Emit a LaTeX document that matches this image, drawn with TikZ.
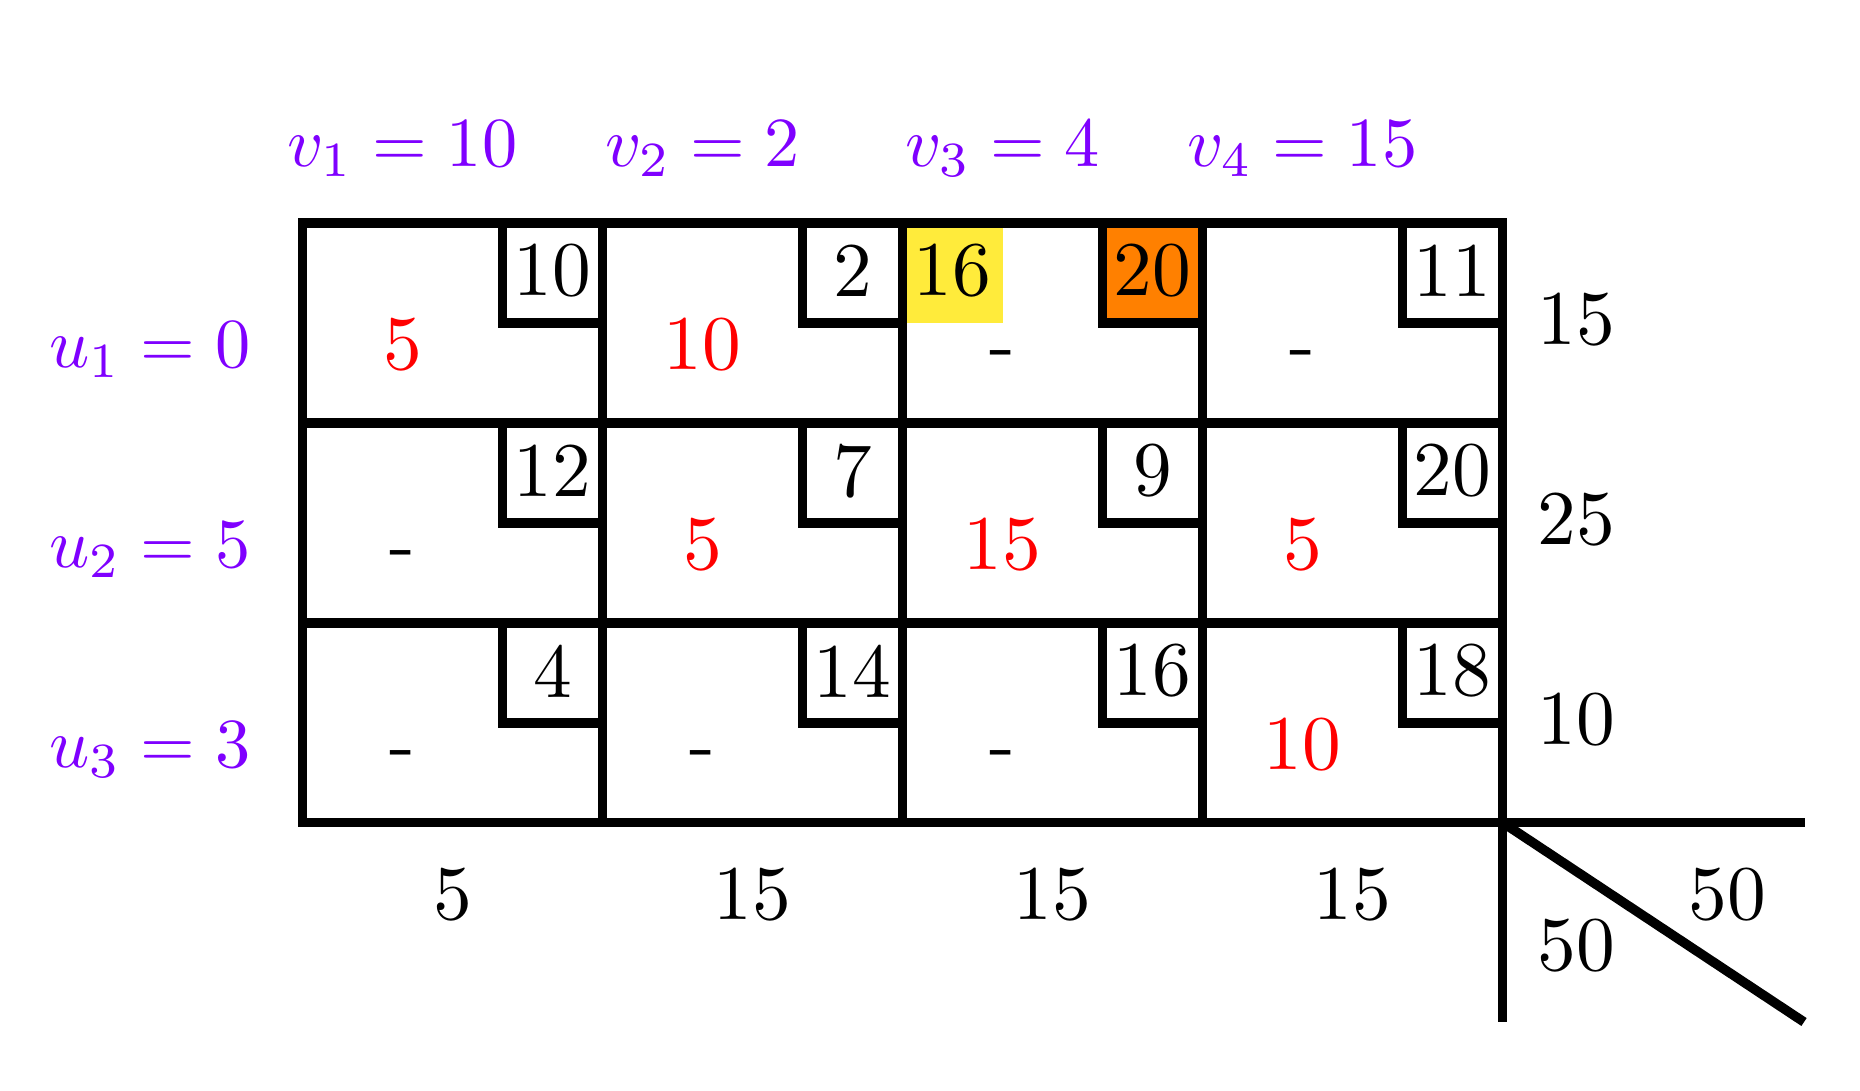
\documentclass[tikz,border=0pt]{standalone}
\usepackage{graphicx}
\definecolor{purp}{RGB}{127,0,255}
\definecolor{yel}{RGB}{255,235,59}
\definecolor{org}{RGB}{255,128,0}
\newcommand{\numtxt}[1]{\scalebox{2.2}{#1}}
\newcommand{\labtxt}[1]{\scalebox{2.0}{$#1$}}
\begin{document}
\begin{tikzpicture}[x=0.01cm,y=-0.01cm,line width=0.095cm,line join=miter,
  num/.style={inner sep=0pt},
  alloc/.style={num,anchor=base},
  red alloc/.style={alloc,text=red},
  lab/.style={text=purp,inner sep=0pt,anchor=base}]
\useasboundingbox (0,0) rectangle (1860,1090);
% highlight fills
\fill[yel] (902.5,223) rectangle (1002.5,323);
\fill[org] (1102.5,223) rectangle (1202.5,323);
% small cost boxes
\foreach \r in {0,1,2}{
  \foreach \c in {0,1,2,3}{
    \draw (502.5+300*\c,223+200*\r) -- (502.5+300*\c,323+200*\r) -- (602.5+300*\c,323+200*\r);
  }
}
% grid
\draw (302.5,223) rectangle (1502.5,822.5);
\foreach \c in {1,2,3}{ \draw (302.5+300*\c,223) -- (302.5+300*\c,822.5); }
\foreach \r in {1,2}{ \draw (302.5,223+200*\r) -- (1502.5,223+200*\r); }
% corner lines
\coordinate (corner) at (1502.5,822.5);
\coordinate (hend) at (1805,822.5);
\coordinate (vend) at (1502.5,1022);
\coordinate (dend) at (1804,1022);
\draw (corner) -- (hend);
\draw (corner) -- (vend);
\draw (corner) -- (dend);
% v labels
\node[lab] (v1) at (402.5,166) {\labtxt{v_1=10}};
\node[lab] (v2) at (702.5,166) {\labtxt{v_2=2}};
\node[lab] (v3) at (1002.5,166) {\labtxt{v_3=4}};
\node[lab] (v4) at (1302.5,166) {\labtxt{v_4=15}};
% u labels
\node[lab] (u1) at (150,367) {\labtxt{u_1=0}};
\node[lab] (u2) at (150,567) {\labtxt{u_2=5}};
\node[lab] (u3) at (150,767) {\labtxt{u_3=3}};
% costs
\node[num] (k11) at (552.5,271) {\numtxt{10}};
\node[num] (k12) at (852.5,271) {\numtxt{2}};
\node[num] (k13) at (1152.5,271) {\numtxt{20}};
\node[num] (k14) at (1452.5,271) {\numtxt{11}};
\node[num] (k21) at (552.5,471) {\numtxt{12}};
\node[num] (k22) at (852.5,471) {\numtxt{7}};
\node[num] (k23) at (1152.5,471) {\numtxt{9}};
\node[num] (k24) at (1452.5,471) {\numtxt{20}};
\node[num] (k31) at (552.5,671) {\numtxt{4}};
\node[num] (k32) at (852.5,671) {\numtxt{14}};
\node[num] (k33) at (1152.5,671) {\numtxt{16}};
\node[num] (k34) at (1452.5,671) {\numtxt{18}};
\node[num] (y13) at (952.5,271) {\numtxt{16}};
% allocations
\node[red alloc] (a11) at (402.5,369) {\numtxt{5}};
\node[red alloc] (a12) at (702.5,369) {\numtxt{10}};
\node[alloc] (a13) at (1002.5,369) {\numtxt{-}};
\node[alloc] (a14) at (1302.5,369) {\numtxt{-}};
\node[alloc] (a21) at (402.5,569) {\numtxt{-}};
\node[red alloc] (a22) at (702.5,569) {\numtxt{5}};
\node[red alloc] (a23) at (1002.5,569) {\numtxt{15}};
\node[red alloc] (a24) at (1302.5,569) {\numtxt{5}};
\node[alloc] (a31) at (402.5,769) {\numtxt{-}};
\node[alloc] (a32) at (702.5,769) {\numtxt{-}};
\node[alloc] (a33) at (1002.5,769) {\numtxt{-}};
\node[red alloc] (a34) at (1302.5,769) {\numtxt{10}};
% supply
\node[num] (s1) at (1576,320) {\numtxt{15}};
\node[num] (s2) at (1576,520) {\numtxt{25}};
\node[num] (s3) at (1576,720) {\numtxt{10}};
% demand
\node[num] (d1) at (452.5,895) {\numtxt{5}};
\node[num] (d2) at (752.5,895) {\numtxt{15}};
\node[num] (d3) at (1052.5,895) {\numtxt{15}};
\node[num] (d4) at (1352.5,895) {\numtxt{15}};
% totals
\node[num] (tot1) at (1727,895) {\numtxt{50}};
\node[num] (tot2) at (1576,946) {\numtxt{50}};
\end{tikzpicture}
\end{document}
